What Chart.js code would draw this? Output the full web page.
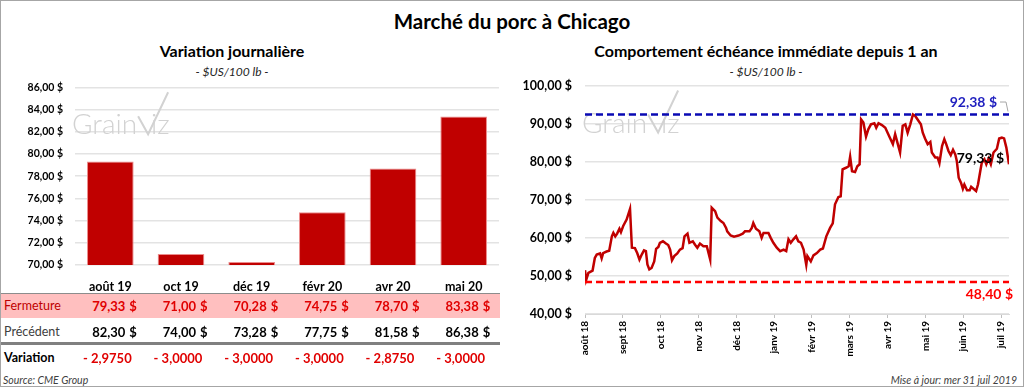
<!DOCTYPE html>
<html>
<head>
<meta charset="utf-8">
<script src="https://cdn.jsdelivr.net/npm/chart.js@4.4.0/dist/chart.umd.min.js"></script>
<style>
    body { margin: 0; background: #fff; font-family: Lato, "Open Sans", sans-serif; }
    #wrap { position: relative; width: 1024px; height: 387px; overflow: hidden; background: #fff; }
    #frame { position: absolute; left: 0; top: 0; width: 1024px; height: 387px; box-sizing: border-box; border: 1px solid #a6a6a6; pointer-events: none; }
    .t { position: absolute; white-space: nowrap; line-height: 16px; color: #000; }
    .title { left: 0; width: 1024px; top: 10px; text-align: center; font-weight: bold; font-size: 20.5px; line-height: 22px; }
    .sub { font-weight: bold; font-size: 16px; text-align: center; width: 500px; top: 43px; }
    .unit { font-style: italic; font-size: 12px; text-align: center; width: 500px; top: 64px; color: #262626; }
    canvas { position: absolute; }
    .row-pink { position: absolute; left: 1px; top: 293px; width: 499px; height: 24px; background: #ffbfbf; border-top: 1px solid #8c8c8c; }
    .row-line { position: absolute; left: 1px; top: 342px; width: 499px; height: 3px; background: #808080; }
    .val { font-weight: bold; font-size: 13px; }
    .red { color: #e00000; }
    .note { font-style: italic; font-size: 10.5px; color: #404040; top: 372px; }
</style>
</head>
<body>
<div id="wrap">
    <div class="t title">Marché du porc à Chicago</div>
    <div class="t sub" style="left: -18px;">Variation journalière</div>
    <div class="t unit" style="left: -18px;">- $US/100 lb -</div>
    <div class="t sub" style="left: 516px;">Comportement échéance immédiate depuis 1 an</div>
    <div class="t unit" style="left: 516px;">- $US/100 lb -</div>

    <div class="row-pink"></div>
    <div class="row-line"></div>
    <div class="t" style="left: 4px; top: 298px; font-size: 12.5px; color: #c00000;">Fermeture</div>
    <div class="t" style="left: 4px; top: 324px; font-size: 12.5px; color: #404040;">Précédent</div>
    <div class="t" style="left: 4px; top: 350px; font-size: 12.5px; font-weight: bold;">Variation</div>
    <div class="t note" style="left: 3px;">Source: CME Group</div>
    <div class="t note" style="right: 7px;">Mise à jour: mer 31 juil 2019</div>

    <canvas id="daily" width="499" height="226" style="left: 0; top: 69px;"></canvas>
    <canvas id="year" width="515" height="294" style="left: 505px; top: 65px;"></canvas>
    <div id="frame"></div>
</div>
<script>
(function () {
    "use strict";

    // Contrats (graphique de gauche)
    const contracts = ["août 19", "oct 19", "déc 19", "févr 20", "avr 20", "mai 20"];
    const closes = [79.33, 71.00, 70.28, 74.75, 78.70, 83.38];
    const previous = [82.30, 74.00, 73.28, 77.75, 81.58, 86.38];
    const changes = [-2.9750, -3.0000, -3.0000, -3.0000, -2.8750, -3.0000];

    // Échéance immédiate sur 1 an (x en mois depuis août 18)
    const monthLabels = ["août 18", "sept 18", "oct 18", "nov 18", "déc 18", "janv 19",
        "févr 19", "mars 19", "avr 19", "mai 19", "juin 19", "juil 19"];
    const lineX = [0.00, 0.03, 0.09, 0.20, 0.26, 0.31, 0.40, 0.44, 0.48, 0.57, 0.64, 0.71, 0.75, 0.80, 0.85, 0.91,
        0.95, 1.01, 1.10, 1.19, 1.24, 1.32, 1.38, 1.44, 1.50, 1.56, 1.61, 1.65, 1.70, 1.76, 1.83, 1.88,
        1.94, 1.98, 2.06, 2.14, 2.20, 2.25, 2.30, 2.36, 2.44, 2.51, 2.58, 2.63, 2.71, 2.76, 2.85, 2.91,
        2.97, 3.04, 3.13, 3.22, 3.31, 3.35, 3.44, 3.50, 3.59, 3.66, 3.73, 3.76, 3.85, 3.94, 4.06, 4.17,
        4.23, 4.35, 4.41, 4.45, 4.52, 4.61, 4.67, 4.72, 4.85, 4.91, 4.98, 5.07, 5.16, 5.25, 5.32, 5.38,
        5.44, 5.51, 5.58, 5.64, 5.71, 5.78, 5.85, 5.88, 5.97, 6.04, 6.13, 6.22, 6.29, 6.38, 6.48, 6.55,
        6.61, 6.70, 6.76, 6.81, 6.90, 6.97, 7.01, 7.06, 7.14, 7.20, 7.26, 7.30, 7.36, 7.43, 7.49, 7.56,
        7.65, 7.70, 7.76, 7.85, 7.94, 8.00, 8.07, 8.14, 8.20, 8.26, 8.33, 8.40, 8.47, 8.53, 8.60, 8.67,
        8.73, 8.82, 8.88, 8.93, 8.99, 9.06, 9.13, 9.17, 9.26, 9.32, 9.37, 9.44, 9.50, 9.55, 9.61, 9.67,
        9.73, 9.79, 9.83, 9.88, 9.94, 9.99, 10.03, 10.10, 10.17, 10.21, 10.27, 10.34, 10.39, 10.45, 10.49, 10.56,
        10.61, 10.67, 10.73, 10.80, 10.89, 10.95, 11.02, 11.08, 11.14, 11.21];
    const lineY = [51.5, 48.9, 50.8, 51.4, 54.7, 55.6, 55.9, 54.6, 56.0, 56.4, 56.6, 60.4, 61.3, 60.4, 61.1, 62.4,
        61.5, 63.1, 64.8, 67.6, 57.4, 57.3, 56.0, 54.3, 55.6, 56.7, 56.5, 53.0, 51.7, 52.1, 53.8, 57.1,
        57.6, 58.7, 59.1, 58.5, 58.1, 56.9, 54.1, 55.2, 55.9, 56.9, 57.3, 60.4, 61.1, 58.7, 59.1, 58.2,
        57.4, 58.5, 57.8, 57.8, 54.3, 67.9, 67.0, 65.3, 64.4, 63.9, 62.6, 61.7, 60.6, 60.3, 60.6, 61.1,
        61.7, 61.7, 62.6, 63.9, 62.4, 61.7, 60.0, 61.3, 61.3, 60.0, 58.7, 57.4, 56.5, 56.9, 56.5, 59.6,
        58.7, 59.6, 60.4, 59.1, 58.7, 56.9, 52.9, 55.2, 53.8, 55.4, 56.0, 56.9, 57.2, 60.4, 62.6, 63.8,
        68.8, 70.7, 70.9, 78.0, 78.4, 78.8, 81.3, 77.5, 77.3, 78.8, 79.3, 91.1, 90.3, 86.6, 88.5, 89.8,
        90.1, 88.9, 90.1, 89.6, 88.9, 87.6, 86.1, 84.6, 87.2, 85.0, 82.4, 89.4, 89.8, 87.6, 89.8, 92.38,
        92.0, 90.7, 89.8, 87.6, 86.1, 84.6, 85.2, 82.4, 81.1, 81.1, 79.6, 84.1, 85.9, 84.6, 82.8, 81.7,
        83.1, 81.9, 80.2, 75.8, 74.5, 72.9, 74.0, 72.5, 72.5, 73.4, 72.9, 72.3, 74.0, 77.5, 79.7, 80.6,
        79.3, 80.8, 79.3, 82.4, 83.4, 86.1, 86.3, 86.1, 83.7, 79.33];
    const yearHigh = 92.38;
    const yearLow = 48.40;

    const dollars = (v) => v.toFixed(2).replace(".", ",") + " $";
    const FONT = "Lato, 'Open Sans', sans-serif";

    // Filigrane grainViz
    const watermark = {
        id: "grainviz",
        beforeDatasetsDraw(chart) {
            const { ctx, chartArea } = chart;
            const x = chartArea.left - 3;
            const y = chartArea.top + 47;
            ctx.save();
            ctx.fillStyle = "#d2d2d2";
            ctx.strokeStyle = "#d2d2d2";
            ctx.font = "300 28px " + FONT;
            ctx.fillText("Grain", x, y);
            const w = ctx.measureText("Grain").width;
            ctx.lineWidth = 2;
            ctx.beginPath();
            ctx.moveTo(x + w + 1, y - 18);
            ctx.lineTo(x + w + 11, y);
            ctx.lineTo(x + w + 31, y - 42);
            ctx.stroke();
            ctx.fillText("iz", x + w + 14, y);
            ctx.restore();
        },
    };

    // Étiquettes du graphique de droite
    const priceLabels = {
        id: "priceLabels",
        afterDatasetsDraw(chart) {
            const { ctx, scales: { x, y } } = chart;
            const hy = y.getPixelForValue(yearHigh);
            const ly = y.getPixelForValue(yearLow);
            const px = x.getPixelForValue(lineX[lineX.length - 1]);
            const py = y.getPixelForValue(lineY[lineY.length - 1]);
            ctx.save();
            ctx.font = "bold 14px " + FONT;
            ctx.textAlign = "right";
            ctx.textBaseline = "middle";
            ctx.fillStyle = "#1f1fbf";
            ctx.fillText(dollars(yearHigh), x.right - 12, hy - 12);
            ctx.fillStyle = "#ff0000";
            ctx.fillText(dollars(yearLow), x.right + 4, ly + 12);
            ctx.fillStyle = "#000";
            ctx.fillText(dollars(lineY[lineY.length - 1]), px - 5, py - 6);
            ctx.strokeStyle = "#a6a6a6";
            ctx.lineWidth = 1;
            ctx.beginPath();
            ctx.moveTo(x.right - 9, hy - 12.5);
            ctx.lineTo(x.right - 3, hy - 12.5);
            ctx.lineTo(x.right - 1, hy - 3);
            ctx.stroke();
            ctx.restore();
        },
    };

    const daily = new Chart(document.getElementById("daily"), {
        type: "bar",
        data: {
            labels: contracts,
            datasets: [
                {
                    data: closes,
                    backgroundColor: "#c00000",
                    borderColor: "#ec8c8c",
                    borderWidth: 1,
                    barPercentage: 0.66,
                    categoryPercentage: 1,
                },
            ],
        },
        options: {
            responsive: false,
            animation: false,
            layout: { padding: 0 },
            plugins: { legend: { display: false }, tooltip: { enabled: false } },
            scales: {
                x: {
                    grid: { display: false },
                    border: { display: false },
                    ticks: {
                        color: "#000",
                        padding: 6,
                        font: { family: FONT, size: 12.5, weight: "bold" },
                    },
                    afterFit: (scale) => { scale.height = 30; },
                },
                y: {
                    min: 70,
                    max: 86,
                    ticks: {
                        stepSize: 2,
                        color: "#000",
                        padding: 12,
                        font: { family: FONT, size: 10.5, weight: "bold" },
                        callback: (v) => dollars(v),
                    },
                    grid: { color: "#e3e3e3", drawTicks: false, lineWidth: 1.5 },
                    border: { display: false },
                    afterFit: (scale) => { scale.width = 75; },
                },
            },
        },
        plugins: [watermark],
    });

    new Chart(document.getElementById("year"), {
        type: "line",
        data: {
            datasets: [
                {
                    data: lineX.map((x, i) => ({ x: x, y: lineY[i] })),
                    borderColor: "#c00000",
                    borderWidth: 2.5,
                    pointRadius: 0,
                    tension: 0,
                    order: 2,
                },
                {
                    data: [{ x: 0, y: yearHigh }, { x: lineX[lineX.length - 1], y: yearHigh }],
                    borderColor: "#0a0ab4",
                    borderWidth: 2.5,
                    borderDash: [7, 4],
                    pointRadius: 0,
                    order: 1,
                },
                {
                    data: [{ x: 0, y: yearLow }, { x: lineX[lineX.length - 1], y: yearLow }],
                    borderColor: "#ff0000",
                    borderWidth: 2.5,
                    borderDash: [7, 4],
                    pointRadius: 0,
                    order: 1,
                },
            ],
        },
        options: {
            responsive: false,
            animation: false,
            layout: { padding: { top: 0, right: 11, bottom: 0, left: 0 } },
            plugins: { legend: { display: false }, tooltip: { enabled: false } },
            scales: {
                x: {
                    type: "linear",
                    min: 0,
                    max: lineX[lineX.length - 1],
                    afterBuildTicks: (scale) => {
                        scale.ticks = monthLabels.map((_, i) => ({ value: i }));
                    },
                    ticks: {
                        autoSkip: false,
                        maxRotation: 90,
                        minRotation: 90,
                        padding: 3,
                        color: "#000",
                        font: { family: FONT, size: 10, weight: "bold" },
                        callback: (v) => monthLabels[v],
                    },
                    grid: { drawOnChartArea: false, tickLength: 4, color: "#bfbfbf" },
                    border: { display: true, color: "#d9d9d9" },
                    afterFit: (scale) => { scale.height = 45; },
                },
                y: {
                    min: 40,
                    max: 100,
                    ticks: {
                        stepSize: 10,
                        color: "#000",
                        padding: 13,
                        font: { family: FONT, size: 12.5, weight: "bold" },
                        callback: (v) => dollars(v),
                    },
                    grid: { color: "#e3e3e3", drawTicks: false, lineWidth: 1.5 },
                    border: { display: false },
                    afterFit: (scale) => { scale.width = 80; },
                },
            },
        },
        plugins: [watermark, priceLabels],
    });

    // Tableau sous les barres, aligné sur l'axe des catégories
    const wrap = document.getElementById("wrap");
    const addText = (text, x, y, align, cls) => {
        const d = document.createElement("div");
        d.className = "t " + cls;
        d.textContent = text;
        d.style.top = (y - 8) + "px";
        if (align === "right") {
            d.style.right = (1024 - x) + "px";
        } else if (align === "center") {
            d.style.left = (x - 50) + "px";
            d.style.width = "100px";
            d.style.textAlign = "center";
        } else {
            d.style.left = x + "px";
        }
        wrap.insertBefore(d, document.getElementById("frame"));
    };
    const num = (v) => v.toFixed(2).replace(".", ",");
    const change = (v) => (v < 0 ? "- " : "+ ") + Math.abs(v).toFixed(4).replace(".", ",");

    contracts.forEach((c, i) => {
        const cx = daily.scales.x.getPixelForValue(i);
        addText(num(closes[i]), cx + 15, 306, "right", "val red");
        addText("$", cx + 19, 306, "left", "val red");
        addText(num(previous[i]), cx + 15, 332, "right", "val");
        addText("$", cx + 19, 332, "left", "val");
        addText(change(changes[i]), cx - 3, 358, "center", "val red");
    });
})();
</script>
</body>
</html>
